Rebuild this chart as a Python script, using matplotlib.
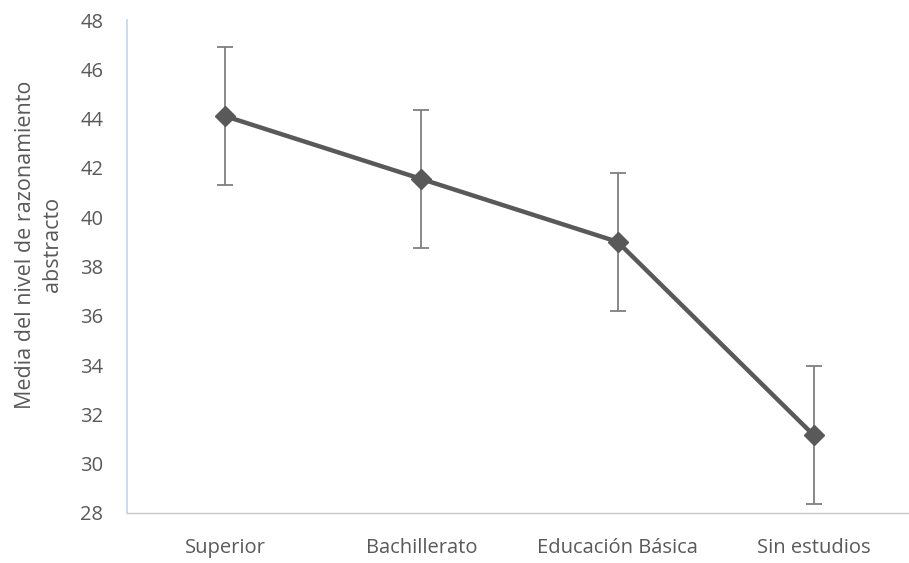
import numpy as np
import matplotlib.pyplot as plt

categorias = ["Superior", "Bachillerato", "Educación Básica", "Sin estudios"]
medias = [44.1, 41.55, 39.0, 31.15]
errores = [2.8, 2.8, 2.8, 2.8]
yticks = list(range(28, 49, 2))

plt.rcParams['font.family'] = ['Open Sans', 'DejaVu Sans']

fig = plt.figure(figsize=(9.09, 5.63), dpi=100)
ax = fig.add_axes([127 / 909, 1 - 513 / 563, (912 - 127) / 909, (513 - 20) / 563])

x = np.arange(len(categorias))
ax.errorbar(x, medias, yerr=errores, fmt='none', ecolor='#7f7f7f',
             elinewidth=1.3, capsize=5.5, capthick=1.3, zorder=2)
ax.plot(x, medias, color='#595959', linewidth=3.2, marker='D',
        markersize=10.5, zorder=3)

ax.set_xlim(-0.5, 3.5)
ax.set_ylim(28, 48)
ax.set_yticks(yticks)
ax.set_xticks(x)
ax.set_xticklabels(categorias)
ax.tick_params(axis='both', length=0, labelsize=14.5, colors='#595959')
ax.tick_params(axis='x', pad=18)
ax.tick_params(axis='y', pad=17)

for s in ['top', 'right']:
    ax.spines[s].set_visible(False)
ax.spines['left'].set_color('#bdd7ee')
ax.spines['left'].set_linewidth(1.2)
ax.spines['bottom'].set_color('#c8c8c8')
ax.spines['bottom'].set_linestyle((0, (1, 1)))
ax.spines['bottom'].set_linewidth(1)

ax.set_ylabel("Media del nivel de razonamiento\nabstracto", fontsize=15.5,
              color='#595959', linespacing=1.35)
ax.yaxis.set_label_coords(-0.082, 0.544)

fig.savefig("out.png", dpi=100)
